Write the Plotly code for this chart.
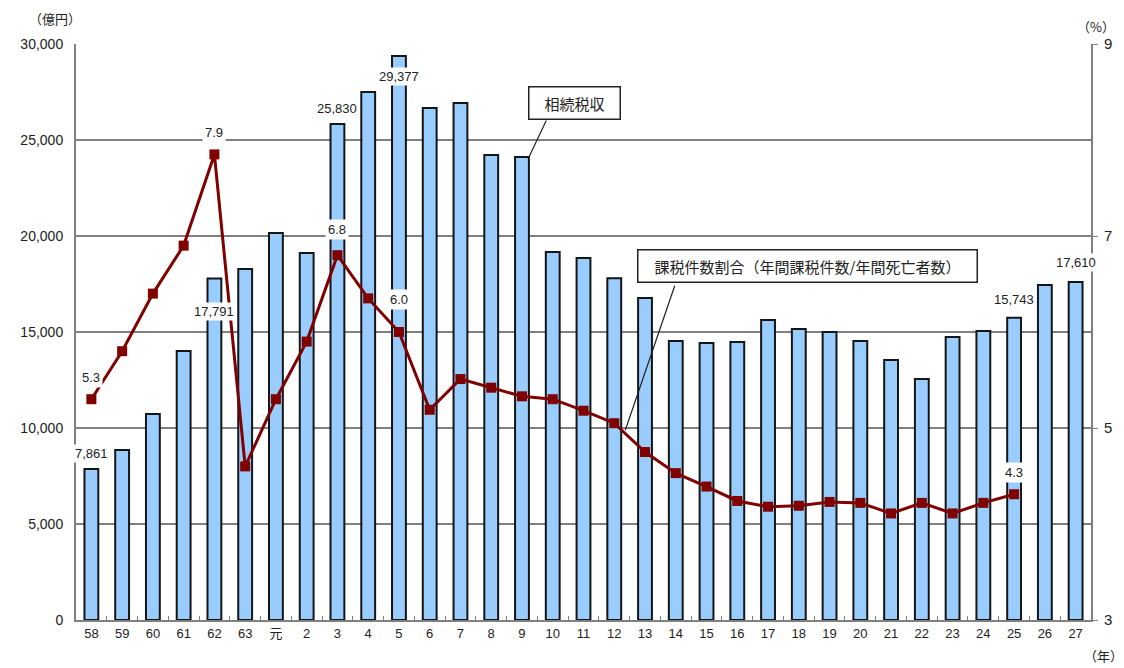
import plotly.graph_objects as go

years = ["58", "59", "60", "61", "62", "63", "元", "2", "3", "4", "5", "6", "7", "8", "9",
         "10", "11", "12", "13", "14", "15", "16", "17", "18", "19", "20", "21", "22",
         "23", "24", "25", "26", "27"]
tax_revenue = [7861, 8850, 10730, 14010, 17791, 18280, 20160, 19120, 25830, 27500, 29377,
               26670, 26930, 24220, 24115, 19170, 18850, 17800, 16770, 14530, 14430, 14480,
               15630, 15160, 15000, 14530, 13540, 12550, 14740, 15050, 15743, 17450, 17610]
tax_ratio = [5.3, 5.8, 6.4, 6.9, 7.85, 4.6, 5.3, 5.9, 6.8, 6.35, 6.0, 5.19, 5.51, 5.42,
             5.33, 5.3, 5.18, 5.05, 4.75, 4.53, 4.39, 4.24, 4.18, 4.19, 4.23, 4.22, 4.11,
             4.22, 4.11, 4.22, 4.31]
ratio_years = years[:len(tax_ratio)]

bar_label_idx = [0, 4, 8, 10, 30, 32]
bar_label_shift = [16, -33, 16, -21, 18, 19]
line_label_idx = [0, 4, 8, 10, 30]
line_label_text = ["5.3", "7.9", "6.8", "6.0", "4.3"]
line_label_shift = [22, 22, 26, 33, 22]

FONT = "Liberation Sans, Noto Sans CJK JP, sans-serif"
CJK = "Noto Sans CJK JP, sans-serif"

# page body has an 8px margin; figure geometry set so the plot area lands
# at x 66..1095, y 44..620 of the window
OFF = 8
PL, PR, PT, PB = 66, 1095, 44, 620
PW, PH = PR - PL, PB - PT


def px(x):
    return (x - PL) / PW


def py(y):
    return (PB - y) / PH


fig = go.Figure()
fig.add_trace(go.Bar(
    x=years, y=tax_revenue, name="相続税収",
    marker=dict(color="#99CCFF", line=dict(color="#151515", width=2)),
    yaxis="y",
))
fig.add_trace(go.Scatter(
    x=ratio_years, y=tax_ratio, name="課税件数割合", yaxis="y2",
    mode="lines+markers",
    line=dict(color="#800000", width=3),
    marker=dict(symbol="square", size=10, color="#800000"),
))

annotations = []
for i, s in zip(bar_label_idx, bar_label_shift):
    annotations.append(dict(
        x=i, y=tax_revenue[i], xref="x", yref="y",
        text=f"{tax_revenue[i]:,}", showarrow=False, yshift=s,
        bgcolor="white", borderpad=1,
        font=dict(family=FONT, size=13, color="#222"),
    ))
for i, t, s in zip(line_label_idx, line_label_text, line_label_shift):
    annotations.append(dict(
        x=i, y=tax_ratio[i], xref="x", yref="y2",
        text=t, showarrow=False, yshift=s,
        bgcolor="white", borderpad=2,
        font=dict(family=FONT, size=13, color="#222"),
    ))

# callout boxes
annotations.append(dict(
    x=px(571), y=py(103), xref="paper", yref="paper", xanchor="center", yanchor="middle",
    text="相続税収", showarrow=False, bgcolor="white", width=80,
    bordercolor="#222", borderwidth=1.5, borderpad=5,
    font=dict(family=CJK, size=15, color="#222"),
))
annotations.append(dict(
    x=14, y=tax_revenue[14], xref="x", yref="y", xshift=7,
    text="", showarrow=True, arrowhead=0, arrowwidth=1.2, arrowcolor="#222",
    ax=18, ay=-38,
))
annotations.append(dict(
    x=px(808), y=py(266), xref="paper", yref="paper", xanchor="center", yanchor="middle",
    text="課税件数割合（年間課税件数/年間死亡者数）", showarrow=False, bgcolor="white",
    width=328, bordercolor="#222", borderwidth=1.5, borderpad=5,
    font=dict(family=CJK, size=15, color="#222"),
))
annotations.append(dict(
    x=17, y=tax_ratio[17], xref="x", yref="y2", xshift=11, yshift=-7,
    text="", showarrow=True, arrowhead=0, arrowwidth=1.2, arrowcolor="#222",
    ax=50, ay=-146,
))

# axis unit labels
for t, x, y in [("（億円）", 45, 18), ("（%）", 1100, 26), ("（年）", 1108, 655)]:
    annotations.append(dict(x=px(x), y=py(y), xref="paper", yref="paper",
                            xanchor="center", yanchor="middle",
                            text=t, showarrow=False,
                            font=dict(family=CJK, size=13, color="#222")))

fig.update_layout(
    width=1124 - OFF, height=668 - OFF,
    margin=dict(l=PL - OFF, r=1124 - PR, t=PT - OFF, b=668 - PB, pad=0),
    paper_bgcolor="white", plot_bgcolor="white",
    showlegend=False, bargap=0.55,
    font=dict(family=FONT, size=13, color="#222"),
    xaxis=dict(
        type="category", range=[-0.5, len(years) - 0.5], autorange=False,
        showgrid=False, showline=True, linecolor="#808080", linewidth=2,
        ticks="inside", tickson="boundaries", ticklen=4, tickcolor="#808080",
        tickangle=0, tickfont=dict(family=FONT, size=13, color="#222"),
    ),
    yaxis=dict(
        range=[0, 30000], dtick=5000, tickformat=",", showgrid=True,
        gridcolor="#808080", gridwidth=1.5, showline=True, linecolor="#808080", linewidth=2,
        zeroline=False, ticks="", ticklabelstandoff=8,
        tickfont=dict(family=FONT, size=14, color="#222"),
    ),
    yaxis2=dict(
        range=[3, 9], tickvals=[3, 5, 7, 9], overlaying="y", side="right",
        showgrid=False, showline=True, linecolor="#808080", linewidth=2,
        ticks="outside", ticklen=5, tickcolor="#808080", zeroline=False,
        ticklabelstandoff=3,
        tickfont=dict(family=FONT, size=15, color="#222"),
    ),
    annotations=annotations,
)

fig.write_html("out.html")
